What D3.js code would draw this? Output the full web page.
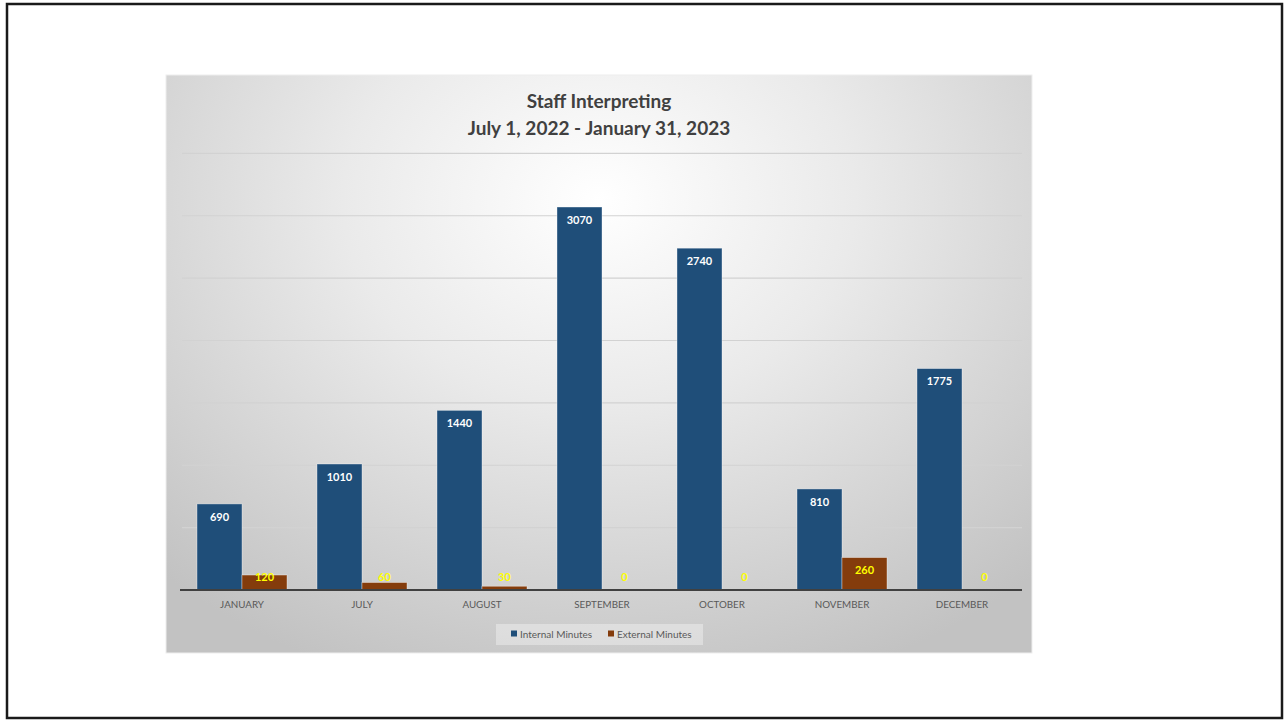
<!DOCTYPE html>
<html><head><meta charset="utf-8">
<script src="https://cdn.jsdelivr.net/npm/d3@7"></script>
<style>html,body{margin:0;padding:0;background:#fff;}svg{display:block;}</style>
</head><body>
<svg id="chart" width="1284" height="721"></svg>
<script>
const categories = ["JANUARY","JULY","AUGUST","SEPTEMBER","OCTOBER","NOVEMBER","DECEMBER"];
const internalMinutes = [690,1010,1440,3070,2740,810,1775];
const externalMinutes = [120,60,30,0,0,260,0];
const seriesNames = ["Internal Minutes","External Minutes"];
const seriesColors = ["#1f4e79","#843c0c"];
const yTicks = [500,1000,1500,2000,2500,3000,3500];
const titleLines = ["Staff Interpreting","July 1, 2022 - January 31, 2023"];

const svg = d3.select("#chart");
const font = "Lato, 'Open Sans', sans-serif";

// outer frame
svg.append("rect").attr("x",7).attr("y",4).attr("width",1275).attr("height",714)
  .attr("fill","#fff").attr("stroke","#1a1a1a").attr("stroke-width",2.5);

// panel gradient
const defs = svg.append("defs");
const rg = defs.append("radialGradient").attr("id","bg")
  .attr("gradientUnits","userSpaceOnUse").attr("cx",599).attr("cy",200).attr("r",640)
  .attr("gradientTransform","translate(599,200) scale(1,0.8) translate(-599,-200)");
rg.append("stop").attr("offset","0%").attr("stop-color","#ffffff");
rg.append("stop").attr("offset","40%").attr("stop-color","#eaeaea");
rg.append("stop").attr("offset","100%").attr("stop-color","#c2c2c2");
svg.append("rect").attr("x",166).attr("y",75).attr("width",866).attr("height",578)
  .attr("fill","url(#bg)").attr("stroke","#eeeeee").attr("stroke-width",1);

const x0 = d3.scaleBand().domain(categories).range([182,1022]).paddingInner(0.25).paddingOuter(0.125);
const x1 = d3.scaleBand().domain(seriesNames).range([0,x0.bandwidth()]).padding(0);
const y = d3.scaleLinear().domain([0,4000]).range([590,91]);

// gridlines
svg.append("g").selectAll("line").data(yTicks).join("line")
  .attr("x1",182).attr("x2",1022).attr("y1",d=>y(d)).attr("y2",d=>y(d))
  .attr("stroke","#d2d2d2").attr("stroke-width",1.2);

// bars
const data = categories.map((c,i)=>({cat:c, vals:[internalMinutes[i], externalMinutes[i]]}));
const g = svg.append("g").selectAll("g").data(data).join("g")
  .attr("transform",d=>`translate(${x0(d.cat)},0)`);
g.selectAll("rect").data(d=>d.vals.map((v,j)=>({v,s:seriesNames[j],j}))).join("rect")
  .attr("x",d=>x1(d.s)).attr("width",x1.bandwidth())
  .attr("y",d=>y(d.v)).attr("height",d=>y(0)-y(d.v))
  .attr("fill",d=>seriesColors[d.j]).attr("stroke",d=>d.v>0?"rgba(255,255,255,0.45)":"none").attr("stroke-width",0.8);
g.selectAll("text").data(d=>d.vals.map((v,j)=>({v,s:seriesNames[j],j}))).join("text")
  .attr("x",d=>x1(d.s)+x1.bandwidth()/2)
  .attr("y",d=>Math.min(y(d.v)+13, y(0)-13))
  .attr("dy","0.35em").attr("text-anchor","middle")
  .attr("font-family",font).attr("font-weight","bold").attr("font-size",11)
  .attr("fill",d=>d.j===0?"#ffffff":"#ffff00")
  .text(d=>d.v);

// baseline
svg.append("line").attr("x1",180).attr("x2",1022).attr("y1",y(0)).attr("y2",y(0))
  .attr("stroke","#404040").attr("stroke-width",1.8);

// x axis
const xAxis = svg.append("g").attr("transform",`translate(0,${y(0)})`)
  .call(d3.axisBottom(x0).tickSize(0).tickPadding(11));
xAxis.select(".domain").remove();
xAxis.selectAll("text").attr("font-family",font).attr("font-size",9.8).attr("fill","#595959");

// title
svg.append("g").selectAll("text").data(titleLines).join("text")
  .attr("x",599).attr("y",(d,i)=>101+i*27).attr("dy","0.35em").attr("text-anchor","middle")
  .attr("font-family",font).attr("font-weight","bold").attr("font-size",19).attr("fill","#404040")
  .text(d=>d);

// legend
svg.append("rect").attr("x",496).attr("y",624).attr("width",207).attr("height",21)
  .attr("fill","rgba(255,255,255,0.35)");
const leg = svg.append("g").selectAll("g").data(seriesNames).join("g")
  .attr("transform",(d,i)=>`translate(${511+i*97},634)`);
leg.append("rect").attr("x",0).attr("y",-3.5).attr("width",6).attr("height",6).attr("fill",(d,i)=>seriesColors[i]);
leg.append("text").attr("x",9).attr("dy","0.35em").attr("font-family",font).attr("font-size",10)
  .attr("fill","#595959").text(d=>d);
</script>
</body></html>
